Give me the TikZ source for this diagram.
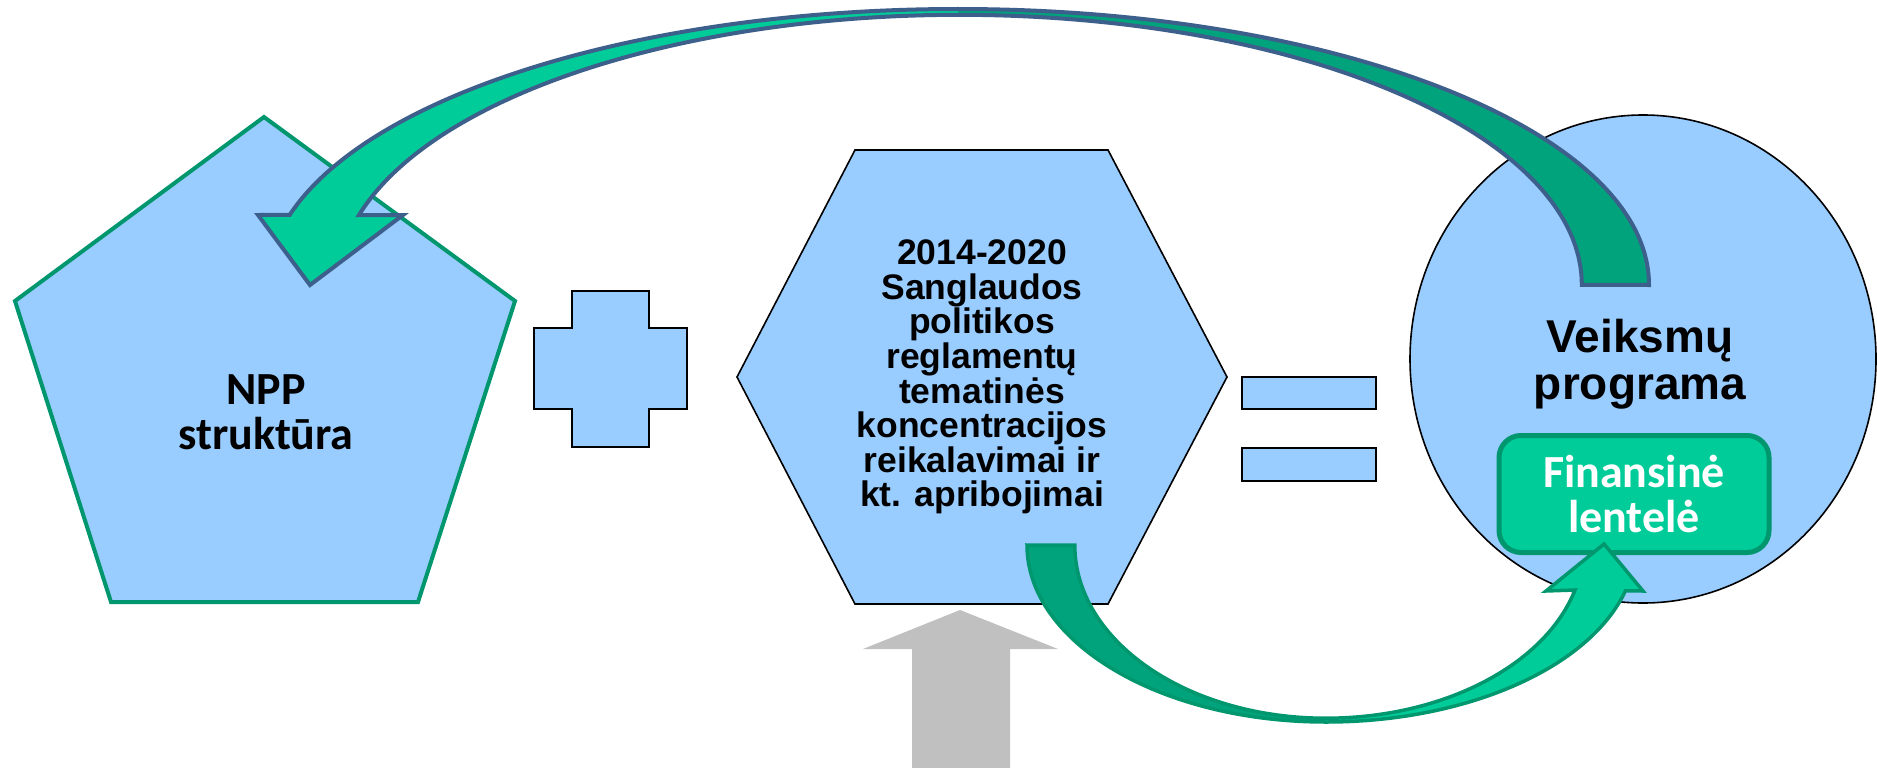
\documentclass[tikz,border=0pt]{standalone}
\usepackage{xcolor}
\usepackage{fontspec}
\usepackage{tikz}
\newfontfamily\sansfont{Liberation Sans}
\newfontfamily\bodyfont{Carlito}
\definecolor{paleblue}{HTML}{99CCFF}
\definecolor{rimgreen}{HTML}{00976F}
\definecolor{brightgreen}{HTML}{00CC99}
\definecolor{darkgreen}{HTML}{00A37B}
\definecolor{rimblue}{HTML}{3D5F8C}
\definecolor{liftgray}{HTML}{C0C0C0}

\begin{document}
\begin{tikzpicture}[x=1pt,y=-1pt,
        figure/.style={fill=paleblue,draw=black,line width=1.6pt},
        bigtext/.style={inner sep=0pt,align=center,font=\sansfont\bfseries\fontsize{46}{47}\selectfont},
        hextext/.style={inner sep=0pt,align=center,font=\sansfont\bfseries\fontsize{35.5}{34.6}\selectfont},
        calibritext/.style={inner sep=0pt,align=center,font=\bodyfont\bfseries\fontsize{46}{45}\selectfont},
        finbox/.style={calibritext,text=white,fill=brightgreen,draw=rimgreen,line width=5pt,rounded corners=22pt,minimum width=270pt,minimum height=117pt}]
    \useasboundingbox (0,0) rectangle (1877,768);
    \fill[white] (0,0) rectangle (1877,768);

    \draw[fill=paleblue,draw=rimgreen,line width=4pt] (264,117) -- (515,301) -- (418,602) -- (111,602) -- (15,301) -- cycle;
    \node[calibritext] (npp) at (266,412) {NPP\\struktūra};

    \draw[figure] (572,291) -- (649,291) -- (649,328) -- (687,328) -- (687,409) -- (649,409) -- (649,447) -- (572,447) -- (572,409) -- (534,409) -- (534,328) -- (572,328) -- cycle;

    \draw[figure] (855,150) -- (1108,150) -- (1227,377) -- (1108,604) -- (855,604) -- (737,377) -- cycle;
    \node[hextext] (reg) at (982,377) {2014-2020\\Sanglaudos\\politikos\\reglamentų\\tematinės\\koncentracijos\\reikalavimai ir\\kt. apribojimai};

    \draw[figure] (1242,377) rectangle (1376,409);
    \draw[figure] (1242,448) rectangle (1376,481);

    \draw[figure] (1643,359) ellipse[x radius=233,y radius=244];
    \node[bigtext] (vp) at (1640,364) {Veiksmų\\programa};
    \node[finbox] (fin) at (1634,494) {Finansinė\\lentelė};

    \def\backarc{(1649,285) arc[start angle=0,end angle=-165.3,x radius=691,y radius=276] -- (258,215) -- (310,285) -- (403,215) -- (359,215) arc[start angle=-165,end angle=0,x radius=622,y radius=270] -- cycle}
    \fill[brightgreen] \backarc;
    \begin{scope}
        \clip (958,0) rectangle (1877,768);
        \fill[darkgreen] \backarc;
    \end{scope}
    \draw[rimblue,line width=4pt,line join=miter] \backarc;

    \def\lowarc{(1027,545) arc[start angle=180,end angle=90,x radius=299,y radius=177] arc[start angle=90,end angle=15,x radius=310,y radius=177] -- (1643,591) -- (1604,544) -- (1546,591) -- (1575,590) arc[start angle=15,end angle=90,x radius=258,y radius=173] arc[start angle=90,end angle=180,x radius=251,y radius=173] -- cycle}
    \fill[brightgreen] \lowarc;
    \begin{scope}
        \clip (0,0) rectangle (1326,768);
        \fill[darkgreen] \lowarc;
    \end{scope}
    \draw[rimgreen,line width=3.5pt,line join=miter] \lowarc;

    \fill[liftgray] (960,610) -- (1058,649) -- (1010,649) -- (1010,768) -- (912,768) -- (912,649) -- (863,649) -- cycle;
\end{tikzpicture}
\end{document}
